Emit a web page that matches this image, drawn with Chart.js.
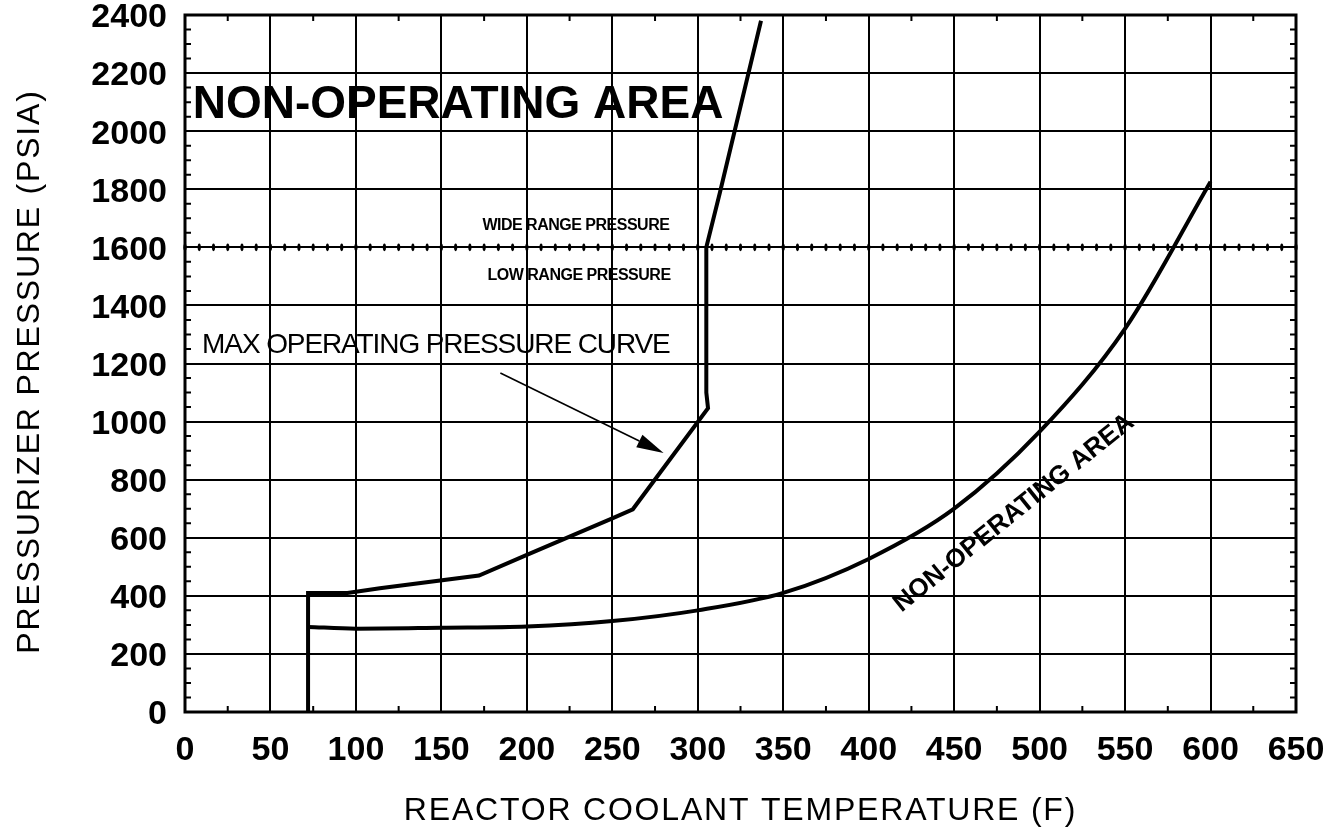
<!DOCTYPE html>
<html>
<head>
<meta charset="utf-8">
<script src="https://cdn.jsdelivr.net/npm/chart.js@4.4.0/dist/chart.umd.min.js"></script>
<style>
  html, body { margin: 0; padding: 0; background: #fff; }
  #wrap { width: 1330px; height: 835px; }
</style>
</head>
<body>
<div id="wrap"><canvas id="c" width="1330" height="835"></canvas></div>
<script>
// Max operating pressure curve: reactor coolant temperature (F) vs pressurizer pressure (psia)
const maxOpTemp  = [72, 72, 95, 114, 172, 200, 250, 262, 306, 305, 305, 313, 325, 337];
const maxOpPress = [0, 410, 410, 426, 470, 541, 667, 698, 1046, 1100, 1600, 1790, 2085, 2380];

// Lower boundary curve
const lowTemp  = [72, 100, 150, 200, 250, 300, 350, 400, 450, 500, 550, 600];
const lowPress = [293, 287, 290, 294, 313, 350, 410, 527, 700, 965, 1320, 1826];

// Axis tick labels
const xTickValues = [0, 50, 100, 150, 200, 250, 300, 350, 400, 450, 500, 550, 600, 650];
const yTickValues = [0, 200, 400, 600, 800, 1000, 1200, 1400, 1600, 1800, 2000, 2200, 2400];

// Boundary between wide range and low range pressure instruments
const rangeSplitPressure = 1600;

const FONT = "'Liberation Sans', Arial, Helvetica, sans-serif";
const X_TITLE = 'REACTOR COOLANT TEMPERATURE (F)';
const Y_TITLE = 'PRESSURIZER PRESSURE (PSIA)';

// Text notes placed in data units
const notes = [
  { text: 'NON-OPERATING AREA', x: 4.5, y: 2045, font: 'bold 46px ' + FONT, spacing: 0, angle: 0, align: 'left' },
  { text: 'WIDE RANGE PRESSURE', x: 174, y: 1660, font: 'bold 16px ' + FONT, spacing: -0.5, angle: 0, align: 'left' },
  { text: 'LOW RANGE PRESSURE', x: 177, y: 1487, font: 'bold 16px ' + FONT, spacing: -0.5, angle: 0, align: 'left' },
  { text: 'MAX OPERATING PRESSURE CURVE', x: 10, y: 1236, font: '28px ' + FONT, spacing: -1.1, angle: 0, align: 'left' },
  { text: 'NON-OPERATING AREA', x: 485, y: 685, font: 'bold 26px ' + FONT, spacing: 0, angle: -38.8, align: 'center', middle: true }
];
const arrowFrom = { x: 184.5, y: 1167 };
const arrowTo   = { x: 280, y: 892 };

function pts(xs, ys) { return xs.map((x, i) => ({ x: x, y: ys[i] })); }

const decor = {
  id: 'decor',
  beforeDatasetsDraw(chart) {
    const { ctx, chartArea: a, scales: { x, y } } = chart;
    ctx.save();
    ctx.fillStyle = '#000';
    ctx.strokeStyle = '#000';
    // minor ticks on the inside of the frame
    ctx.lineWidth = 2;
    ctx.beginPath();
    for (let t = 25; t < 650; t += 50) {
      const px = x.getPixelForValue(t);
      ctx.moveTo(px, a.bottom); ctx.lineTo(px, a.bottom - 6);
      ctx.moveTo(px, a.top); ctx.lineTo(px, a.top + 6);
    }
    for (let p = 50; p < 2400; p += 50) {
      if (p % 200 === 0) continue;
      const py = y.getPixelForValue(p);
      ctx.moveTo(a.left, py); ctx.lineTo(a.left + 6, py);
      ctx.moveTo(a.right, py); ctx.lineTo(a.right - 6, py);
    }
    ctx.stroke();
    // hatched range split line
    const sy = y.getPixelForValue(rangeSplitPressure);
    for (let t = 0; t <= 650.01; t += 25 / 3) {
      const px = x.getPixelForValue(t);
      ctx.beginPath();
      ctx.ellipse(px, sy, 1.6, 3.8, 0, 0, Math.PI * 2);
      ctx.fill();
    }
    // frame
    ctx.lineWidth = 3;
    ctx.strokeRect(a.left, a.top, a.right - a.left, a.bottom - a.top);
    ctx.restore();
  },
  afterDatasetsDraw(chart) {
    const { ctx, chartArea: a, scales: { x, y } } = chart;
    ctx.save();
    ctx.fillStyle = '#000';
    for (const n of notes) {
      ctx.save();
      ctx.font = n.font;
      ctx.letterSpacing = n.spacing + 'px';
      ctx.textAlign = n.align;
      ctx.textBaseline = n.middle ? 'middle' : 'alphabetic';
      ctx.translate(x.getPixelForValue(n.x), y.getPixelForValue(n.y));
      ctx.rotate(n.angle * Math.PI / 180);
      ctx.fillText(n.text, 0, 0);
      ctx.restore();
    }
    // pointer arrow
    const x0 = x.getPixelForValue(arrowFrom.x), y0 = y.getPixelForValue(arrowFrom.y);
    const x1 = x.getPixelForValue(arrowTo.x), y1 = y.getPixelForValue(arrowTo.y);
    const ang = Math.atan2(y1 - y0, x1 - x0);
    const hl = 27, hw = 7;
    ctx.strokeStyle = '#000';
    ctx.lineWidth = 1.6;
    ctx.beginPath();
    ctx.moveTo(x0, y0);
    ctx.lineTo(x1 - hl * Math.cos(ang), y1 - hl * Math.sin(ang));
    ctx.stroke();
    ctx.beginPath();
    ctx.moveTo(x1, y1);
    ctx.lineTo(x1 - hl * Math.cos(ang) + hw * Math.sin(ang), y1 - hl * Math.sin(ang) - hw * Math.cos(ang));
    ctx.lineTo(x1 - hl * Math.cos(ang) - hw * Math.sin(ang), y1 - hl * Math.sin(ang) + hw * Math.cos(ang));
    ctx.closePath();
    ctx.fill();
    // axis titles
    ctx.font = '32px ' + FONT;
    ctx.letterSpacing = '1.8px';
    ctx.textAlign = 'center';
    ctx.textBaseline = 'middle';
    ctx.fillText(X_TITLE, (a.left + a.right) / 2, 811);
    ctx.save();
    ctx.translate(30, (a.top + a.bottom) / 2 + 8);
    ctx.rotate(-Math.PI / 2);
    ctx.fillText(Y_TITLE, 0, 0);
    ctx.restore();
    ctx.letterSpacing = '0px';
    ctx.restore();
  }
};

const tickFont = { family: FONT, size: 34, weight: 'bold' };

new Chart(document.getElementById('c'), {
  type: 'scatter',
  data: {
    datasets: [
      {
        label: 'Max operating pressure',
        data: pts(maxOpTemp, maxOpPress),
        showLine: true,
        borderColor: '#000',
        borderWidth: 4,
        pointRadius: 0,
        tension: 0
      },
      {
        label: 'Lower boundary',
        data: pts(lowTemp, lowPress),
        showLine: true,
        borderColor: '#000',
        borderWidth: 4,
        pointRadius: 0,
        cubicInterpolationMode: 'monotone'
      }
    ]
  },
  options: {
    responsive: false,
    animation: false,
    devicePixelRatio: 1,
    layout: { padding: { left: 0, right: 34, top: 15, bottom: 0 } },
    plugins: { legend: { display: false }, tooltip: { enabled: false } },
    scales: {
      x: {
        type: 'linear', min: 0, max: 650,
        afterBuildTicks(s) { s.ticks = xTickValues.map(v => ({ value: v })); },
        ticks: { font: tickFont, color: '#000', padding: 18, maxRotation: 0, autoSkip: false, callback: v => String(v) },
        grid: { color: '#000', lineWidth: 2, drawTicks: false },
        border: { display: false },
        afterFit(s) { s.height = 123; s.paddingLeft = 0; s.paddingRight = 0; }
      },
      y: {
        type: 'linear', min: 0, max: 2400,
        afterBuildTicks(s) { s.ticks = yTickValues.map(v => ({ value: v })); },
        ticks: { font: tickFont, color: '#000', padding: 18, labelOffset: 3, autoSkip: false, callback: v => String(v) },
        grid: { color: '#000', lineWidth: 2, drawTicks: false },
        border: { display: false },
        afterFit(s) { s.width = 185; s.paddingTop = 0; s.paddingBottom = 0; }
      }
    }
  },
  plugins: [decor]
});
</script>
</body>
</html>
